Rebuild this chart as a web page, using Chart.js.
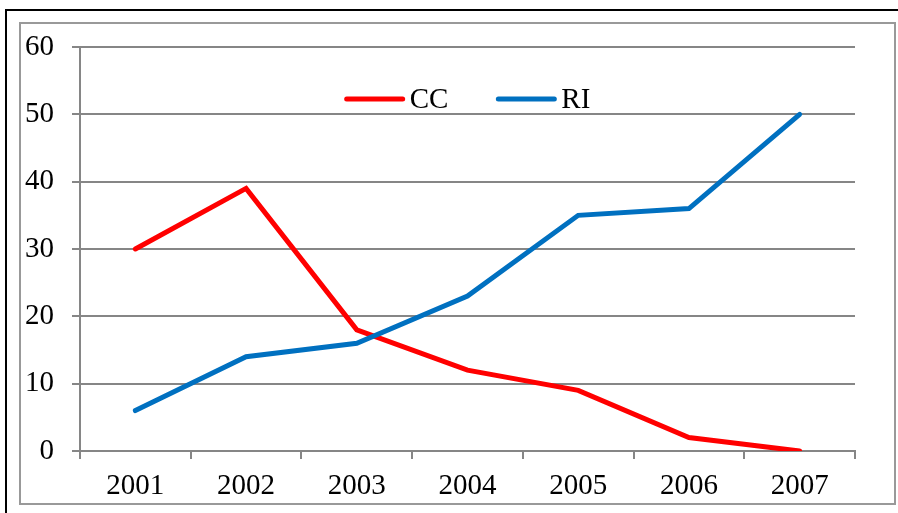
<!DOCTYPE html>
<html lang="en">
<head>
<meta charset="utf-8">
<title>CC / RI</title>
<style>
  html, body { margin: 0; padding: 0; background: #fff; overflow: hidden; }
  #frame { position: absolute; left: 5px; top: 9px; width: 1000px; height: 600px; border: 2px solid #000; }
  #box { position: absolute; left: 19px; top: 22px; width: 873px; height: 479px; border: 2px solid #999; background: #fff; }
  #box canvas { display: block; }
</style>
</head>
<body>
<div id="frame"></div>
<div id="box"><canvas id="myChart" width="873" height="479"></canvas></div>

<script src="https://cdn.jsdelivr.net/npm/chart.js"></script>
<script>
const years = ['2001', '2002', '2003', '2004', '2005', '2006', '2007'];
const ccValues = [30, 39, 18, 12, 9, 2, 0];
const riValues = [6, 14, 16, 23, 35, 36, 50];

const grey = '#868686';
const font = { family: '"Liberation Serif", "Times New Roman", serif', size: 29 };

// legend drawn inside the plot, near the top, centred
const insideLegend = {
  id: 'insideLegend',
  afterDraw(chart) {
    const { ctx, chartArea } = chart;
    const lineLen = 60, gap = 5, spacing = 48;
    ctx.save();
    ctx.font = font.size + 'px ' + font.family;
    const items = chart.data.datasets.map(ds => ({
      text: ds.label,
      color: ds.borderColor,
      w: lineLen + gap + ctx.measureText(ds.label).width
    }));
    const total = items.reduce((s, it) => s + it.w, 0) + spacing * (items.length - 1);
    let x = (chartArea.left + chartArea.right) / 2 - total / 2;
    const y = chartArea.top + 52;
    items.forEach(it => {
      ctx.strokeStyle = it.color;
      ctx.lineWidth = 5;
      ctx.lineCap = 'round';
      ctx.beginPath();
      ctx.moveTo(x + 2, y);
      ctx.lineTo(x + lineLen - 2, y);
      ctx.stroke();
      ctx.fillStyle = '#000';
      ctx.textBaseline = 'middle';
      ctx.textAlign = 'left';
      ctx.fillText(it.text, x + lineLen + gap, y + 1);
      x += it.w + spacing;
    });
    ctx.restore();
  }
};

new Chart(document.getElementById('myChart'), {
  type: 'line',
  data: {
    labels: years,
    datasets: [{
      label: 'CC',
      data: ccValues,
      borderColor: '#FF0000',
      backgroundColor: '#FF0000',
      borderWidth: 5,
      borderCapStyle: 'round',
      pointRadius: 0,
      tension: 0,
      order: 1
    }, {
      label: 'RI',
      data: riValues,
      borderColor: '#0070C0',
      backgroundColor: '#0070C0',
      borderWidth: 5,
      borderCapStyle: 'round',
      pointRadius: 0,
      tension: 0,
      order: 0
    }]
  },
  options: {
    responsive: false,
    animation: false,
    layout: { padding: { top: 23, right: 39, left: 0, bottom: 0 } },
    plugins: {
      legend: { display: false },
      tooltip: { enabled: false }
    },
    scales: {
      x: {
        offset: true,
        grid: { offset: true, drawOnChartArea: false, color: grey, lineWidth: 2, tickLength: 8 },
        border: { color: grey, width: 2 },
        ticks: { color: '#000', font: font, padding: 10, maxRotation: 0 },
        afterFit(scale) {
          scale.height = 52;
          scale.paddingLeft = 0;
          scale.paddingRight = 0;
        }
      },
      y: {
        min: 0,
        max: 60,
        ticks: { stepSize: 10, color: '#000', font: font, padding: 18 },
        grid: { color: grey, lineWidth: 2, tickLength: 8 },
        border: { color: grey, width: 2 },
        afterFit(scale) {
          scale.width = 59;
          scale.paddingTop = 0;
          scale.paddingBottom = 0;
        }
      }
    }
  },
  plugins: [insideLegend]
});
</script>
</body>
</html>
